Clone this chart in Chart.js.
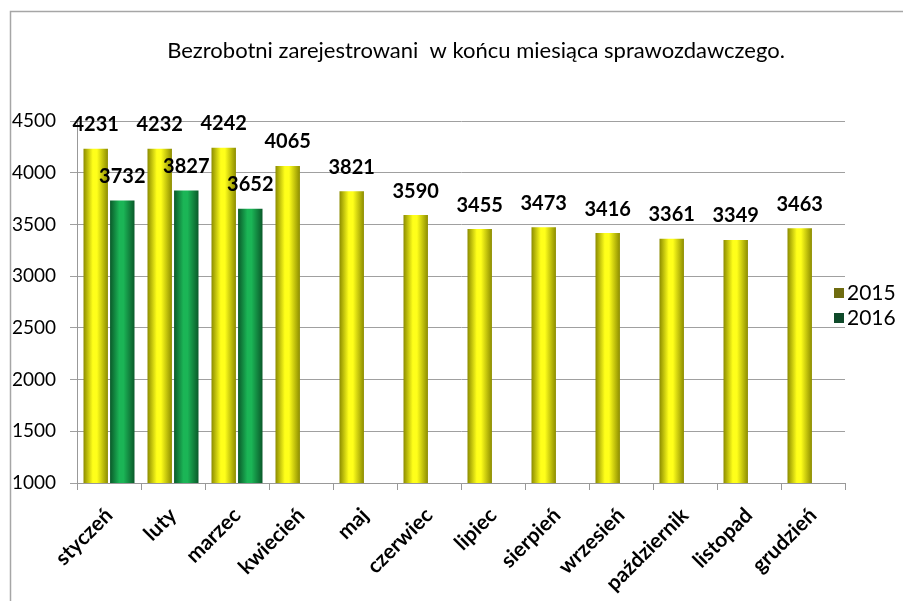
<!DOCTYPE html>
<html>
<head>
<meta charset="utf-8">
<script src="https://cdn.jsdelivr.net/npm/chart.js@4.4.1/dist/chart.umd.min.js"></script>
<style>
  html, body { margin: 0; padding: 0; background: #fff; }
  #wrap { width: 903px; height: 601px; }
</style>
</head>
<body>
<div id="wrap"><canvas id="bar-chart" width="903" height="601"></canvas></div>
<script>
const months = ['styczeń', 'luty', 'marzec', 'kwiecień', 'maj', 'czerwiec',
  'lipiec', 'sierpień', 'wrzesień', 'październik', 'listopad', 'grudzień'];
const values2015 = [4231, 4232, 4242, 4065, 3821, 3590, 3455, 3473, 3416, 3361, 3349, 3463];
const values2016 = [3732, 3827, 3652, null, null, null, null, null, null, null, null, null];
const seriesNames = ['2015', '2016'];
const yMin = 1000, yMax = 4500, yStep = 500;
const chartTitle = 'Bezrobotni zarejestrowani  w końcu miesiąca sprawozdawczego.';

const FONT = 'Lato, "Open Sans", sans-serif';

// colours for the cylinder look: edge, centre
const barShades = [
    ['#8c8c00', '#ffff1a'],
    ['#0a5a2a', '#1bb556']
];
const legendColors = ['#6f6c10', '#0f4a2a'];

const barStyle = {
    id: 'barStyle',
    beforeDatasetsDraw(chart) {
        const ctx = chart.ctx;
        chart.data.datasets.forEach((ds, di) => {
            const meta = chart.getDatasetMeta(di);
            const [edge, mid] = barShades[di];
            meta.data.forEach(el => {
                const left = el.x - el.width / 2;
                const right = el.x + el.width / 2;
                const g = ctx.createLinearGradient(left, 0, right, 0);
                g.addColorStop(0, edge);
                g.addColorStop(0.38, mid);
                g.addColorStop(0.55, mid);
                g.addColorStop(1, edge);
                el.options = Object.assign({}, el.options, {backgroundColor: g});
            });
        });
    },
    afterDatasetsDraw(chart) {
        const ctx = chart.ctx;
        ctx.save();
        ctx.font = 'bold 20px ' + FONT;
        ctx.fillStyle = '#000';
        ctx.textAlign = 'center';
        ctx.textBaseline = 'middle';
        chart.data.datasets.forEach((ds, di) => {
            const meta = chart.getDatasetMeta(di);
            meta.data.forEach((el, i) => {
                const v = ds.data[i];
                if (v == null) return;
                ctx.fillText(String(v), el.x, el.y - 24);
            });
        });
        ctx.restore();
    }
};

const decor = {
    id: 'decor',
    afterDraw(chart) {
        const ctx = chart.ctx;
        ctx.save();
        // frame
        ctx.strokeStyle = '#a6a6a6';
        ctx.lineWidth = 1.5;
        ctx.beginPath();
        ctx.moveTo(10.5, 601);
        ctx.lineTo(10.5, 11.5);
        ctx.lineTo(903, 11.5);
        ctx.stroke();

        // title
        ctx.fillStyle = '#000';
        ctx.font = '22px ' + FONT;
        ctx.textAlign = 'center';
        ctx.textBaseline = 'middle';
        ctx.fillText(chartTitle, 476, 51);

        // legend
        ctx.textAlign = 'left';
        ctx.font = '21px ' + FONT;
        seriesNames.forEach((name, i) => {
            const y = 288 + i * 25;
            ctx.fillStyle = legendColors[i];
            ctx.fillRect(834, y, 10, 10);
            ctx.fillStyle = '#000';
            ctx.fillText(name, 847, y + 5);
        });
        ctx.restore();
    }
};

new Chart(document.getElementById('bar-chart'), {
    type: 'bar',
    data: {
        labels: months,
        datasets: [
            { label: seriesNames[0], data: values2015, backgroundColor: barShades[0][1] },
            { label: seriesNames[1], data: values2016, backgroundColor: barShades[1][1] }
        ]
    },
    options: {
        responsive: false,
        animation: false,
        categoryPercentage: 0.83,
        barPercentage: 0.92,
        layout: {
            padding: { top: 121, right: 58, bottom: 0, left: 0 }
        },
        plugins: {
            legend: { display: false },
            title: { display: false },
            tooltip: { enabled: false }
        },
        scales: {
            x: {
                grid: {
                    drawOnChartArea: false,
                    drawTicks: true,
                    tickLength: 7,
                    color: '#999'
                },
                border: { color: '#999' },
                ticks: {
                    minRotation: 45,
                    maxRotation: 45,
                    color: '#000',
                    padding: 13,
                    font: { family: FONT, size: 21, weight: 'bold' }
                },
                afterFit(scale) { scale.height = 118; }
            },
            y: {
                min: yMin,
                max: yMax,
                grid: {
                    color: '#a0a0a0',
                    tickLength: 7
                },
                border: { color: '#999' },
                ticks: {
                    stepSize: yStep,
                    color: '#000',
                    padding: 14,
                    font: { family: FONT, size: 19 },
                    callback: v => String(v)
                },
                afterFit(scale) { scale.width = 77; }
            }
        }
    },
    plugins: [barStyle, decor]
});
</script>
</body>
</html>
